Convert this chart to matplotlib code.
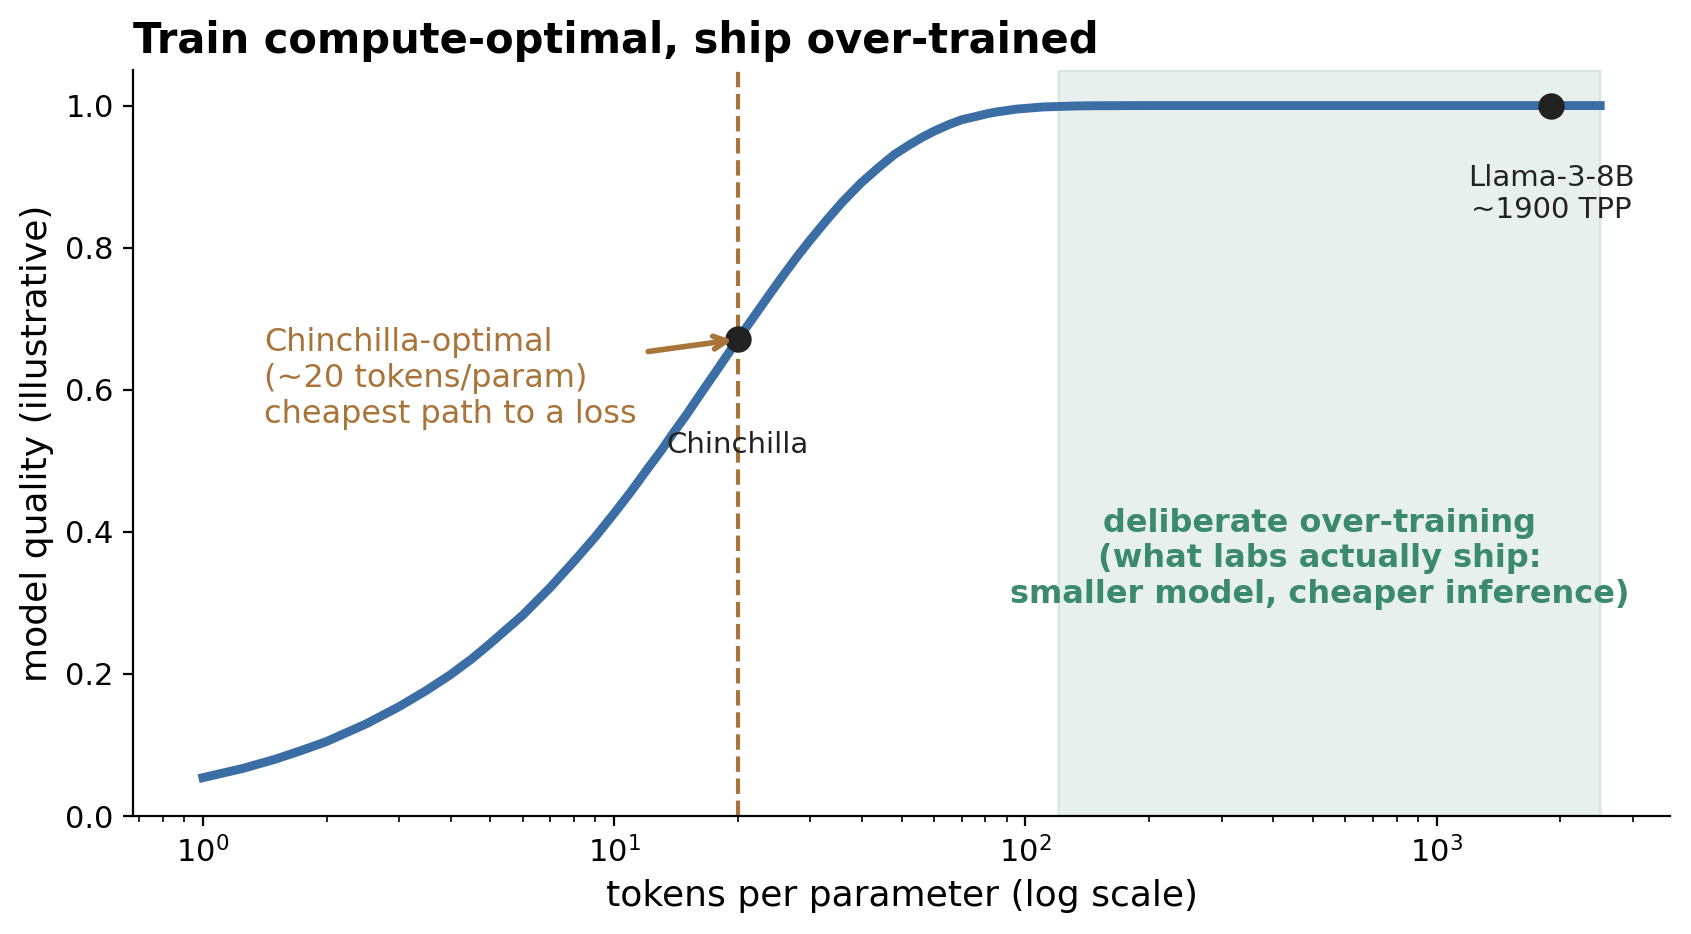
import numpy as np
import matplotlib
matplotlib.use('Agg')
import matplotlib.pyplot as plt

# curve (tokens per parameter -> model quality)
tpp = [1, 1.25, 1.5, 1.75, 2, 2.5, 3, 3.5, 4, 4.5, 5, 6, 7, 8, 9, 10, 11, 12,
       13, 14, 15, 16, 18, 20, 22, 24, 26, 28, 30, 33, 36, 40, 44, 48, 52, 56,
       60, 65, 70, 75, 80, 85, 90, 95, 100, 105, 110, 120, 130, 140, 150, 175,
       200, 300, 500, 1000, 2500]
quality = [0.054, 0.067, 0.080, 0.093, 0.105, 0.130, 0.154, 0.177, 0.199,
           0.221, 0.243, 0.283, 0.322, 0.359, 0.393, 0.426, 0.457, 0.487,
           0.514, 0.541, 0.565, 0.589, 0.632, 0.671, 0.705, 0.736, 0.764,
           0.789, 0.811, 0.840, 0.865, 0.892, 0.913, 0.931, 0.944, 0.955,
           0.964, 0.973, 0.980, 0.984, 0.988, 0.991, 0.993, 0.995, 0.996,
           0.997, 0.998, 0.9987, 0.9993, 0.9996, 0.9998, 0.9999,
           1.000, 1.000, 1.000, 1.000, 1.000]

chin_x, chin_y = 20, 0.671
llama_x, llama_y = 1900, 1.0
span_lo, span_hi = 120, 2500

blue = '#3b6ea5'
brown = '#a8743a'
green = '#3b8a6e'

fig = plt.figure(figsize=(1691 / 200, 934 / 200), dpi=200)
ax = fig.add_axes([0.0787, 0.1263, 0.9089, 0.7987])

ax.axvspan(span_lo, span_hi, color=green, alpha=0.12, zorder=0)
ax.plot(tpp, quality, color=blue, lw=3.2, zorder=2)
ax.axvline(chin_x, color=brown, ls='--', lw=1.5, zorder=1)
ax.plot([chin_x, llama_x], [chin_y, llama_y], 'o', color='#222222', ms=8.5, zorder=3)

ax.set_xscale('log')
ax.set_ylim(0, 1.05)

ax.annotate('Chinchilla', (chin_x, chin_y), xytext=(0, -33), textcoords='offset points',
            ha='center', va='top', fontsize=10.5, color='#222222')
ax.annotate('Llama-3-8B\n~1900 TPP', (llama_x, llama_y), xytext=(0, -21),
            textcoords='offset points', ha='center', va='top', fontsize=10.5,
            color='#222222')
ax.annotate('Chinchilla-optimal\n(~20 tokens/param)\ncheapest path to a loss',
            xy=(chin_x, chin_y), xytext=(1.41, 0.616), ha='left', va='center',
            fontsize=11.5, color=brown,
            arrowprops=dict(arrowstyle='->', color=brown, lw=2))
ax.text(520, 0.362, 'deliberate over-training\n(what labs actually ship:\nsmaller model, cheaper inference)',
        ha='center', va='center', fontsize=11.5, fontweight='bold', color=green)

ax.set_xlabel('tokens per parameter (log scale)', fontsize=13)
ax.set_ylabel('model quality (illustrative)', fontsize=13)
ax.set_title('Train compute-optimal, ship over-trained', loc='left',
             fontsize=15, fontweight='bold')
ax.tick_params(labelsize=11)
ax.spines['top'].set_visible(False)
ax.spines['right'].set_visible(False)

fig.savefig('out.png', dpi=200)
